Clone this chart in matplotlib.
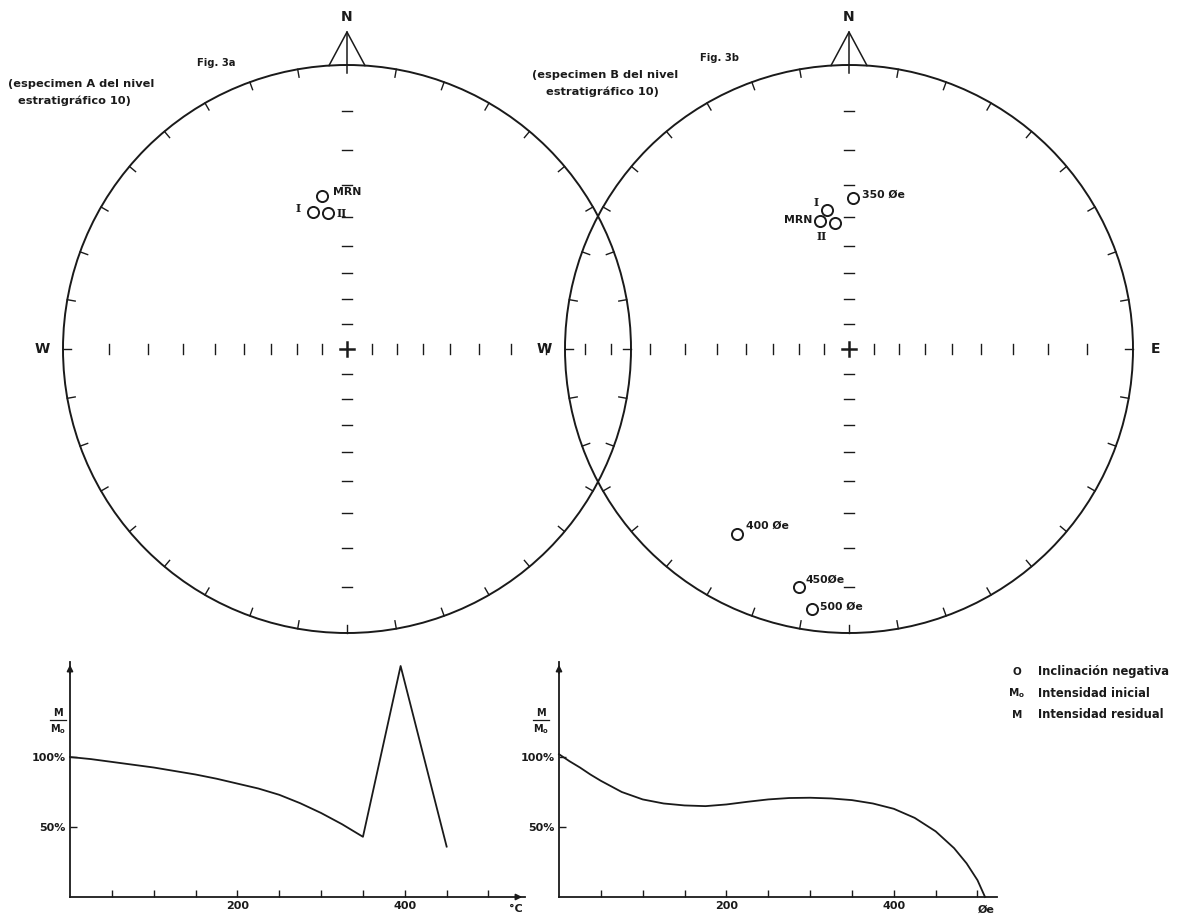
import numpy as np
import matplotlib
matplotlib.use("Agg")
import matplotlib.pyplot as plt
from matplotlib.patches import Circle

# ---------------- data ----------------
net_a_labels = ["MRN", "I", "II"]
net_a_dec = [350.7, 346.1, 352.0]
net_a_inc = [32.7, 37.1, 38.4]

net_b_labels = ["350 Øe", "I", "MRN", "II", "400 Øe", "450Øe", "500 Øe"]
net_b_dec = [1.5, 351.0, 347.2, 353.7, 211.2, 191.9, 188.1]
net_b_inc = [34.0, 37.3, 40.4, 41.9, 15.4, 8.8, 4.5]

axis_tick_inc = [80, 70, 60, 50, 40, 30, 20, 10]
rim_tick_deg = list(range(10, 360, 10))

curve_a_temp = [0, 25, 50, 75, 100, 125, 150, 175, 200, 225, 250, 275, 300, 325, 350, 395, 450]
curve_a_ratio = [100, 98.5, 96.5, 94.5, 92.5, 90, 87.5, 84.5, 81, 77.5, 73, 67, 60, 52, 43, 165, 36]

curve_b_temp = [0, 12.5, 25, 37.5, 50, 75, 100, 125, 150, 175, 200, 225, 250, 275, 300, 325,
                350, 375, 400, 425, 450, 472, 487, 500, 509]
curve_b_ratio = [102, 97, 92.5, 87.5, 83, 75, 69.7, 66.8, 65.4, 64.9, 66.1, 68, 69.7, 70.7,
                 70.9, 70.4, 69.2, 66.8, 63, 56.5, 46.9, 34.9, 24, 12, 0]

x_ticks = [50, 100, 150, 200, 250, 300, 350, 400, 450, 500]
x_ticklabels = ["", "", "", "200", "", "", "", "400", "", ""]
y_ticks = [50, 100]
y_ticklabels = ["50%", "100%"]

legend_symbols = ["O", r"$\mathbf{M_o}$", "M"]
legend_texts = ["Inclinación negativa", "Intensidad inicial", "Intensidad residual"]

# ---------------- style ----------------
INK = "#1a1a1a"
FW = "bold"
W, H = 1178, 918
fig = plt.figure(figsize=(W / 100, H / 100), dpi=100)
fig.patch.set_facecolor("white")

ax0 = fig.add_axes([0, 0, 1, 1])
ax0.set_xlim(0, W)
ax0.set_ylim(H, 0)
ax0.axis("off")

R = 284
CY = 349


def proj(cx, dec, inc):
    d = np.radians(np.asarray(dec))
    r = R * np.tan(np.radians((90 - np.asarray(inc)) / 2.0))
    return cx + r * np.sin(d), CY - r * np.cos(d)


def draw_net(cx, east_label):
    ax0.add_patch(Circle((cx, CY), R, fill=False, lw=1.4, ec=INK))
    for a in rim_tick_deg:
        t = np.radians(a)
        ax0.plot([cx + R * np.sin(t), cx + (R - 8) * np.sin(t)],
                 [CY - R * np.cos(t), CY - (R - 8) * np.cos(t)], color=INK, lw=1.0)
    apex_y = 32
    bx = 18
    by = CY - np.sqrt(R ** 2 - bx ** 2)
    ax0.plot([cx - bx, cx, cx + bx], [by, apex_y, by], color=INK, lw=1.1)
    ax0.plot([cx, cx], [apex_y, CY - R + 8], color=INK, lw=1.1)
    ax0.text(cx, 17, "N", ha="center", va="center", fontsize=10, fontweight=FW, color=INK)
    ax0.text(cx - R - 21, CY, "W", ha="center", va="center", fontsize=10, fontweight=FW, color=INK)
    if east_label:
        ax0.text(cx + R + 23, CY, "E", ha="center", va="center", fontsize=10, fontweight=FW, color=INK)
    for inc in axis_tick_inc:
        r = R * np.tan(np.radians((90 - inc) / 2.0))
        for s in (-1, 1):
            ax0.plot([cx + s * r, cx + s * r], [CY - 5, CY + 5], color=INK, lw=1.0)
            ax0.plot([cx - 5, cx + 5], [CY + s * r, CY + s * r], color=INK, lw=1.0)
    ax0.plot([cx - 7, cx + 7], [CY, CY], color=INK, lw=1.8)
    ax0.plot([cx, cx], [CY - 7, CY + 7], color=INK, lw=1.8)


CXA, CXB = 347, 849
draw_net(CXA, False)
draw_net(CXB, True)

xa, ya = proj(CXA, net_a_dec, net_a_inc)
ax0.plot(xa, ya, "o", ms=8, mfc="none", mec=INK, mew=1.4)
xb, yb = proj(CXB, net_b_dec, net_b_inc)
ax0.plot(xb, yb, "o", ms=8, mfc="none", mec=INK, mew=1.4)

LS = 7.8
lab_a_off = {"MRN": (11, -4, "left"), "I": (-15, -3, "center"), "II": (14, 0, "center")}
for lab, x, y in zip(net_a_labels, xa, ya):
    dx, dy, ha = lab_a_off[lab]
    fam = "DejaVu Serif" if lab in ("I", "II") else "DejaVu Sans"
    ax0.text(x + dx, y + dy, lab, ha=ha, va="center", fontsize=LS, fontweight=FW,
             color=INK, family=fam)

lab_b_off = [(9, -3, "left"), (-11, -8, "center"), (-8, -1, "right"), (-13, 13, "center"),
             (9, -8, "left"), (7, -7, "left"), (8, -2, "left")]
for lab, x, y, (dx, dy, ha) in zip(net_b_labels, xb, yb, lab_b_off):
    fam = "DejaVu Serif" if lab in ("I", "II") else "DejaVu Sans"
    ax0.text(x + dx, y + dy, lab, ha=ha, va="center", fontsize=LS, fontweight=FW,
             color=INK, family=fam)

CS = 8.2
ax0.text(216, 63, "Fig. 3a", ha="center", va="center", fontsize=7.2, fontweight=FW, color=INK)
ax0.text(8, 84, "(especimen A del nivel", ha="left", va="center", fontsize=CS, fontweight=FW, color=INK)
ax0.text(18, 101, "estratigráfico 10)", ha="left", va="center", fontsize=CS, fontweight=FW, color=INK)
ax0.text(719, 58, "Fig. 3b", ha="center", va="center", fontsize=7.2, fontweight=FW, color=INK)
ax0.text(532, 75, "(especimen B del nivel", ha="left", va="center", fontsize=CS, fontweight=FW, color=INK)
ax0.text(546, 92, "estratigráfico 10)", ha="left", va="center", fontsize=CS, fontweight=FW, color=INK)

for i, (sym, txt) in enumerate(zip(legend_symbols, legend_texts)):
    y = 672 + 21.5 * i
    ax0.text(1017, y, sym, ha="center", va="center", fontsize=7.5, fontweight=FW, color=INK)
    ax0.text(1038, y, txt, ha="left", va="center", fontsize=8.3, fontweight=FW, color=INK)

for xm in (58, 541):
    ax0.text(xm, 713, "M", ha="center", va="center", fontsize=7, fontweight=FW, color=INK)
    ax0.plot([xm - 8, xm + 8], [720, 720], color=INK, lw=0.9)
    ax0.text(xm, 729, r"$\mathbf{M_o}$", ha="center", va="center", fontsize=7, color=INK)


# ---------------- bottom charts ----------------
PX_C = 0.837
PX_P = 1.4
X0_PIX = 897


def make_chart(left_px, right_px, temps, ratios, end_label, end_x, arrow_x):
    width = right_px - left_px
    ax = fig.add_axes([left_px / W, (H - X0_PIX) / H, width / W, 235 / H])
    ax.set_xlim(0, width / PX_C)
    ax.set_ylim(0, 235 / PX_P)
    ax.patch.set_alpha(0)
    for s in ("top", "right"):
        ax.spines[s].set_visible(False)
    for s in ("left", "bottom"):
        ax.spines[s].set_color(INK)
        ax.spines[s].set_linewidth(1.3)
    ax.plot(temps, ratios, color=INK, lw=1.3, clip_on=False, solid_joinstyle="round")
    ax.set_xticks(x_ticks)
    ax.set_xticklabels(x_ticklabels)
    ax.set_yticks(y_ticks)
    ax.set_yticklabels(y_ticklabels)
    ax.tick_params(axis="both", direction="in", length=5, width=1.0, colors=INK,
                   labelsize=8, pad=3)
    for lab in ax.get_xticklabels() + ax.get_yticklabels():
        lab.set_fontweight(FW)
    ytop = 235 / PX_P
    ax.annotate("", xy=(0, ytop), xytext=(0, ytop - 10),
                arrowprops=dict(arrowstyle="-|>", color=INK, lw=1.2, mutation_scale=9),
                annotation_clip=False)
    if arrow_x:
        xr = width / PX_C
        ax.annotate("", xy=(xr, 0), xytext=(xr - 12, 0),
                    arrowprops=dict(arrowstyle="-|>", color=INK, lw=1.2, mutation_scale=9),
                    annotation_clip=False)
    ax.annotate(end_label, xy=(end_x, 0), xytext=(0, -9), textcoords="offset points",
                ha="center", va="center", fontsize=8, fontweight=FW, color=INK,
                annotation_clip=False)
    return ax


make_chart(70, 525, curve_a_temp, curve_a_ratio, "°C", 533, True)
make_chart(559, 997, curve_b_temp, curve_b_ratio, "Øe", 510, False)

fig.savefig("out.png", dpi=100, facecolor="white")
